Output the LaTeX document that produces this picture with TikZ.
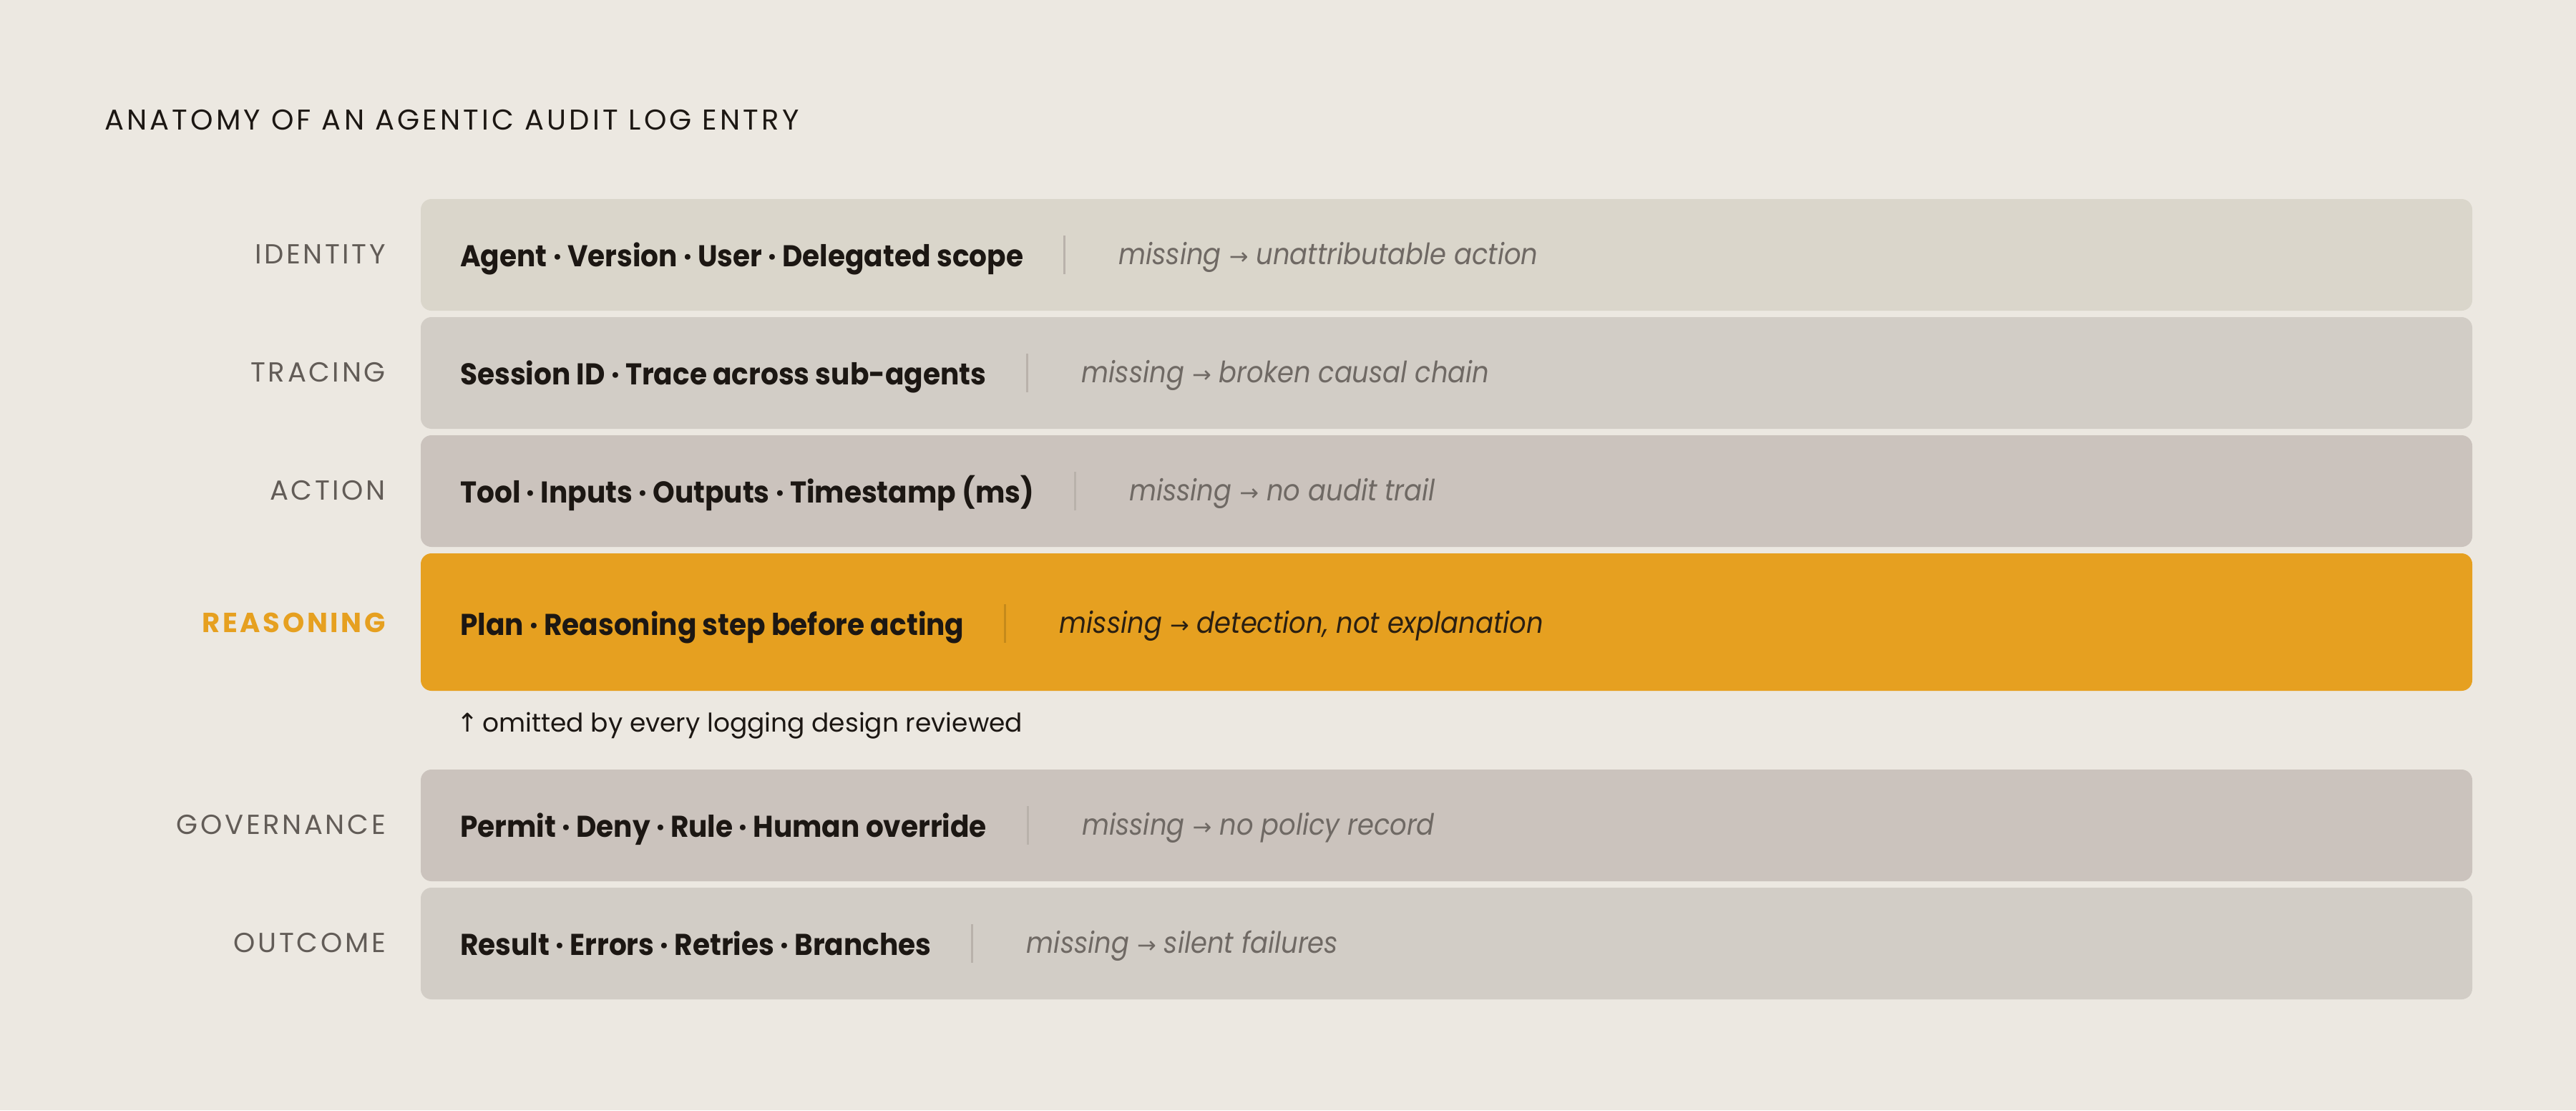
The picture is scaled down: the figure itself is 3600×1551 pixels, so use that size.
\documentclass[tikz,border=0pt]{standalone}
\usepackage{fontspec}
\setmainfont{Poppins}
\newfontfamily\arrowfont{DejaVu Sans}
\usetikzlibrary{calc}
\definecolor{cBg}{HTML}{ECE8E1}
\definecolor{cRowA}{HTML}{DAD6CB}
\definecolor{cRowB}{HTML}{D2CDC6}
\definecolor{cRowC}{HTML}{CBC3BD}
\definecolor{cAccent}{HTML}{E6A020}
\definecolor{cInk}{HTML}{1C1713}
\definecolor{cLabel}{HTML}{625C57}
\definecolor{cNote}{HTML}{6F6964}
\definecolor{cDiv}{HTML}{B9B2AB}
\definecolor{cDivAcc}{HTML}{C58A1B}
\definecolor{cNoteAcc}{HTML}{2A1F12}
\tikzset{
  rowbox/.style={fill=#1, draw=none, rounded corners=15pt, inner sep=0pt, outer sep=0pt, minimum width=2867pt},
  titletxt/.style={text=cInk, inner sep=0pt, font=\fontsize{40}{44}\selectfont\addfontfeature{LetterSpace=10.5}},
  lblplain/.style={text=cLabel, inner sep=0pt, font=\fontsize{38.5}{42}\selectfont\addfontfeature{LetterSpace=9.5}},
  lblaccent/.style={text=cAccent, inner sep=0pt, font=\fontsize{38.5}{42}\selectfont\bfseries\addfontfeature{LetterSpace=9.5}},
  maintxt/.style={text=cInk, inner sep=0pt, font=\fontsize{42}{50}\selectfont\bfseries\addfontfeature{FakeStretch=0.93}},
  noteplain/.style={text=cNote, inner sep=0pt, font=\fontsize{41}{50}\selectfont\itshape\addfontfeature{FakeStretch=0.9}},
  noteaccent/.style={text=cNoteAcc, inner sep=0pt, font=\fontsize{41}{50}\selectfont\itshape\addfontfeature{FakeStretch=0.9}},
  divplain/.style={draw=cDiv, line width=3pt},
  divaccent/.style={draw=cDivAcc, line width=3pt},
  foottxt/.style={text=cInk, inner sep=0pt, font=\fontsize{36}{40}\selectfont},
}
\newcommand\arr{{\arrowfont\fontsize{32}{40}\selectfont →}}
% #1 id, #2 top, #3 bottom, #4 text centre, #5 fill, #6 variant, #7 label, #8 fields, #9 consequence
\newcommand\logrow[9]{%
  \pgfmathsetmacro\rowh{#3-#2}%
  \node[rowbox=#5, minimum height=\rowh pt, anchor=north west] (#1box) at (588,#2) {};
  \node[lbl#6, anchor=base east] (#1lbl) at (539,#4+12.5) {#7};
  \node[maintxt, anchor=base west] (#1main) at (643,#4+16) {#8};
  \coordinate (#1dtop) at ($(#1main.east |- 0,#4)+(57,-27)$);
  \coordinate (#1dbot) at ($(#1main.east |- 0,#4)+(57,27)$);
  \draw[div#6] (#1dtop) -- (#1dbot);
  \node[note#6, anchor=base west] (#1note) at ($(#1main.east |- 0,#4+13)+(133,0)$) {#9};
}
\begin{document}
\begin{tikzpicture}[x=1pt,y=-1pt]
\fill[cBg] (0,0) rectangle (3600,1551);
\useasboundingbox (0,0) rectangle (3600,1551);
\node[titletxt, anchor=base west] (title) at (146,181) {ANATOMY OF AN AGENTIC AUDIT LOG ENTRY};
\logrow{id}{278}{434}{356}{cRowA}{plain}{IDENTITY}{Agent · Version · User · Delegated scope}{missing \arr\ unattributable action}
\logrow{tr}{443}{599}{521}{cRowB}{plain}{TRACING}{Session ID · Trace across sub-agents}{missing \arr\ broken causal chain}
\logrow{ac}{608}{764}{686}{cRowC}{plain}{ACTION}{Tool · Inputs · Outputs · Timestamp (ms)}{missing \arr\ no audit trail}
\logrow{rs}{773}{965}{871}{cAccent}{accent}{REASONING}{Plan · Reasoning step before acting}{missing \arr\ detection, not explanation}
\logrow{gv}{1075}{1231}{1153}{cRowC}{plain}{GOVERNANCE}{Permit · Deny · Rule · Human override}{missing \arr\ no policy record}
\logrow{oc}{1240}{1396}{1318}{cRowB}{plain}{OUTCOME}{Result · Errors · Retries · Branches}{missing \arr\ silent failures}
\node[foottxt, anchor=base west] (omit) at ($(rsbox.south west)+(50,57)$) {{\arrowfont ↑}\,omitted by every logging design reviewed};
\end{tikzpicture}
\end{document}
